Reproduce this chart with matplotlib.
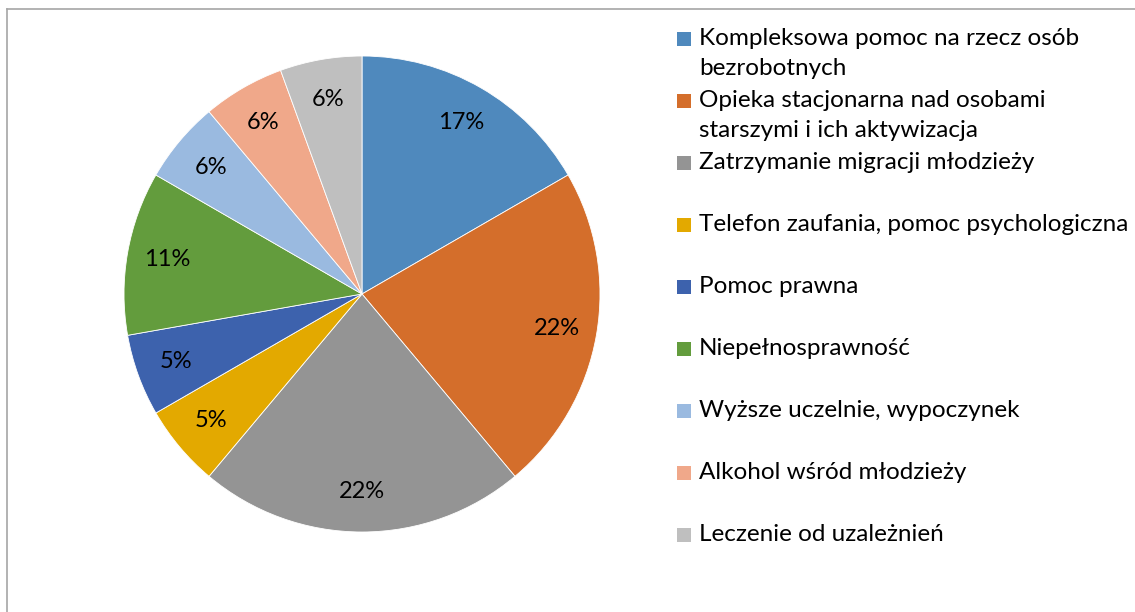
import matplotlib
matplotlib.use("Agg")
import numpy as np
import matplotlib.pyplot as plt
from matplotlib.lines import Line2D
from matplotlib.patches import Rectangle

# --- data ---
categories = [
    "Kompleksowa pomoc na rzecz osób\nbezrobotnych",
    "Opieka stacjonarna nad osobami\nstarszymi i ich aktywizacja",
    "Zatrzymanie migracji młodzieży",
    "Telefon zaufania, pomoc psychologiczna",
    "Pomoc prawna",
    "Niepełnosprawność",
    "Wyższe uczelnie, wypoczynek",
    "Alkohol wśród młodzieży",
    "Leczenie od uzależnień",
]
counts = [3, 4, 4, 1, 1, 2, 1, 1, 1]
pct_labels = ["17%", "22%", "22%", "5%", "5%", "11%", "6%", "6%", "6%"]
colors = ["#4F89BD", "#D46E2B", "#949494", "#E3A900", "#3D62AD",
          "#639C3D", "#9ABAE0", "#F0A88A", "#BFBFBF"]

plt.rcParams["font.family"] = ["Lato", "DejaVu Sans"]

W, H = 1135, 612
fig = plt.figure(figsize=(W / 100, H / 100), dpi=100)
fig.patch.set_facecolor("white")

# chart frame (only left and top edges visible in the crop)
fig.add_artist(Line2D([7 / W, 7 / W], [0, 1 - 9 / H], color="#A6A6A6", lw=1.2))
fig.add_artist(Line2D([7 / W, 1], [1 - 9 / H, 1 - 9 / H], color="#A6A6A6", lw=1.2))

# --- pie ---
cx, cy, r = 362, 294, 238
ax = fig.add_axes([(cx - r) / W, (H - cy - r) / H, 2 * r / W, 2 * r / H])
wedges, _ = ax.pie(counts, colors=colors, startangle=90, counterclock=False,
                   wedgeprops=dict(edgecolor="white", linewidth=0.6))
ax.set_xlim(-1, 1)
ax.set_ylim(-1, 1)
ax.set_aspect("equal")
ax.axis("off")

for w, lab in zip(wedges, pct_labels):
    ang = np.deg2rad((w.theta1 + w.theta2) / 2)
    ax.text(0.83 * np.cos(ang), 0.83 * np.sin(ang), lab,
            ha="center", va="center", fontsize=17, color="black")

# --- legend (drawn by hand to mimic the Excel layout) ---
base0, step, line_gap = 45, 62, 30
for i, (lab, col) in enumerate(zip(categories, colors)):
    base = base0 + i * step
    fig.add_artist(Rectangle((677 / W, 1 - (base + 1) / H), 14 / W, 14 / H,
                             facecolor=col, edgecolor="none",
                             transform=fig.transFigure))
    for k, line in enumerate(lab.split("\n")):
        fig.text(699 / W, 1 - (base + k * line_gap) / H, line,
                 ha="left", va="baseline", fontsize=17.5, color="black")

fig.savefig("out.png", dpi=100, facecolor="white")
